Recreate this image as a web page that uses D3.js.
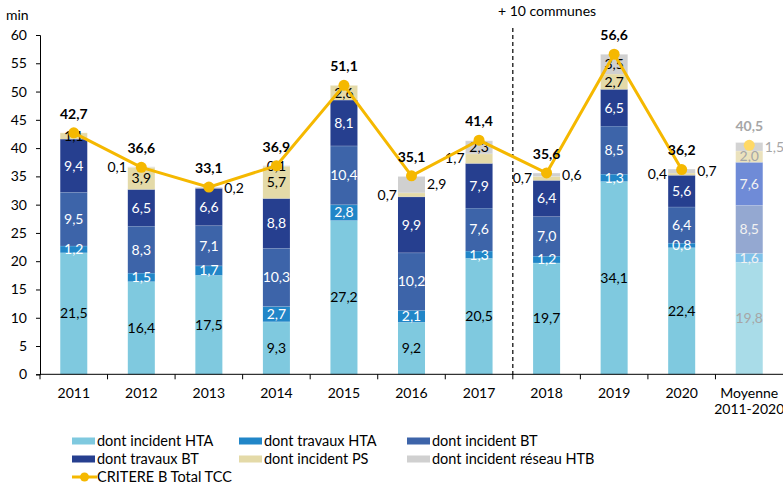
<!DOCTYPE html>
<html><head><meta charset="utf-8">
<script src="https://cdn.jsdelivr.net/npm/d3@7"></script>
<style>
html,body{margin:0;padding:0;background:#fff;}
svg{display:block;font-family:Lato,"Open Sans",sans-serif;}
</style></head>
<body><svg id="c" width="783" height="485"></svg>
<script>
const categories = ["2011","2012","2013","2014","2015","2016","2017","2018","2019","2020","Moyenne\n2011-2020"];
const incidentHTA = [21.5,16.4,17.5,9.3,27.2,9.2,20.5,19.7,34.1,22.4,19.8];
const travauxHTA  = [1.2,1.5,1.7,2.7,2.8,2.1,1.3,1.2,1.3,0.8,1.6];
const incidentBT  = [9.5,8.3,7.1,10.3,10.4,10.2,7.6,7.0,8.5,6.4,8.5];
const travauxBT   = [9.4,6.5,6.6,8.8,8.1,9.9,7.9,6.4,6.5,5.6,7.6];
const incidentPS  = [1.1,3.9,0,5.7,2.6,0.7,1.7,0.7,2.7,0.4,2.0];
const incidentHTB = [0,0.1,0.2,0.1,0,2.9,2.3,0.6,3.5,0.7,1.5];
const totalTCC    = [42.7,36.6,33.1,36.9,51.1,35.1,41.4,35.6,56.6,36.2,40.5];
const yTicks = [0,5,10,15,20,25,30,35,40,45,50,55,60];
// label placement keywords for the small top segments
const psLabelPos  = ["in","in","in","in","in","left","left","left","in","left","in"];
const htbLabelPos = ["in","left","right","in","in","right","in","right","in","right","right"];

const seriesNames = ["dont incident HTA","dont travaux HTA","dont incident BT","dont travaux BT","dont incident PS","dont incident réseau HTB"];
const seriesData = [incidentHTA,travauxHTA,incidentBT,travauxBT,incidentPS,incidentHTB];
const colors = ["#7fc9df","#2186c8","#3d64a9","#263f8f","#e4daa8","#d0d0d0"];
const colorsAvg = ["#a9dce8","#7fc1e9","#94a8d1","#6f8bd7","#ebe2bd","#d3d3d3"];
const labelColors = ["#000","#fff","#fff","#fff","#000","#000"];
const lineColor = "#f5b800";
const FS = 14;

const svg = d3.select("#c");
const x = d3.scaleBand().domain(categories).range([40,783]).paddingInner(0.6).paddingOuter(0.3);
const y = d3.scaleLinear().domain([0,60]).range([374.3,35]);
const fmt = v => d3.format(".1f")(v).replace(".",",");
const isAvg = i => i === categories.length-1;

const rows = categories.map((c,i)=>{const r={cat:c}; seriesData.forEach((s,k)=>r["s"+k]=s[i]); return r;});
const stack = d3.stack().keys(seriesData.map((s,k)=>"s"+k))(rows);

stack.forEach((layer,k)=>{
  const g = svg.append("g");
  g.selectAll("rect").data(layer).join("rect")
    .attr("x",d=>x(d.data.cat)).attr("width",x.bandwidth())
    .attr("y",d=>y(d[1])).attr("height",d=>Math.max(0,y(d[0])-y(d[1])))
    .attr("fill",(d,i)=>isAvg(i)?colorsAvg[k]:colors[k]);
  g.selectAll("line").data(layer.filter(d=>d[1]-d[0]>0)).join("line")
    .attr("x1",d=>x(d.data.cat)).attr("x2",d=>x(d.data.cat)+x.bandwidth())
    .attr("y1",d=>y(d[1])).attr("y2",d=>y(d[1]))
    .attr("stroke","#ffffff").attr("stroke-opacity",0.35).attr("stroke-width",1);
});

stack.forEach((layer,k)=>{
  layer.forEach((d,i)=>{
    const v = d[1]-d[0];
    if (v<=0) return;
    const cx = x(d.data.cat)+x.bandwidth()/2;
    const cy = y((d[0]+d[1])/2);
    let pos = "in";
    if (k===4) pos = psLabelPos[i];
    if (k===5) pos = htbLabelPos[i];
    let tx = cx, anchor="middle", fill = labelColors[k];
    if (pos==="left"){ tx = x(d.data.cat)-1; anchor="end"; fill="#000"; }
    if (pos==="right"){ tx = x(d.data.cat)+x.bandwidth()+2; anchor="start"; fill="#000"; }
    if (isAvg(i)) fill = (k===0||k>=4)?"#a6a6a6":"#f2f2f2";
    svg.append("text").attr("x",tx).attr("y",cy).attr("dy","0.35em")
      .attr("text-anchor",anchor).attr("font-size",FS).attr("fill",fill).text(fmt(v));
  });
});

const yAxis = svg.append("g").attr("transform","translate(40,0)")
  .call(d3.axisLeft(y).tickValues(yTicks).tickSize(4).tickPadding(9).tickFormat(d=>d));
yAxis.select(".domain").attr("stroke","#000");
yAxis.selectAll("text").attr("font-size",FS).attr("fill","#000").style("font-family","Lato,sans-serif");
yAxis.selectAll("line").attr("stroke","#000");

const xg = svg.append("g").attr("transform","translate(0,374.3)");
xg.append("line").attr("x1",40).attr("x2",783).attr("stroke","#000");
const bounds = categories.map(c=>x(c)-x.step()*x.paddingInner()/2);
xg.selectAll("line.t").data(bounds).join("line").attr("class","t")
  .attr("x1",d=>d).attr("x2",d=>d).attr("y1",0).attr("y2",5).attr("stroke","#000");
categories.forEach(c=>{
  const lines = c.split("\n");
  const t = xg.append("text").attr("x",x(c)+x.bandwidth()/2).attr("y",24)
    .attr("text-anchor","middle").attr("font-size",FS).attr("fill","#000");
  lines.forEach((l,j)=>t.append("tspan").attr("x",x(c)+x.bandwidth()/2).attr("dy",j?16:0).text(l));
});

svg.append("text").attr("x",6).attr("y",20).attr("font-size",FS).attr("fill","#000").text("min");

const sepX = x("2018")-x.step()*x.paddingInner()/2;
svg.append("line").attr("x1",sepX).attr("x2",sepX).attr("y1",28).attr("y2",378)
  .attr("stroke","#000").attr("stroke-width",1.2).attr("stroke-dasharray","4,3");
svg.append("text").attr("x",498).attr("y",16).attr("font-size",FS).attr("fill","#000").text("+ 10 communes");

const n = categories.length-1;
const lineData = totalTCC.slice(0,n).map((v,i)=>({c:categories[i],v}));
svg.append("path").datum(lineData)
  .attr("d",d3.line().x(d=>x(d.c)+x.bandwidth()/2).y(d=>y(d.v)))
  .attr("fill","none").attr("stroke",lineColor).attr("stroke-width",3);
svg.selectAll("circle.m").data(totalTCC.map((v,i)=>({c:categories[i],v,i}))).join("circle")
  .attr("cx",d=>x(d.c)+x.bandwidth()/2).attr("cy",d=>y(d.v)).attr("r",5.5)
  .attr("fill",d=>isAvg(d.i)?"#ffd966":lineColor);
svg.selectAll("text.tot").data(totalTCC.map((v,i)=>({c:categories[i],v,i}))).join("text")
  .attr("x",d=>x(d.c)+x.bandwidth()/2).attr("y",d=>y(d.v)-19).attr("dy","0.35em")
  .attr("text-anchor","middle").attr("font-size",FS).attr("font-weight","bold")
  .attr("fill",d=>isAvg(d.i)?"#a6a6a6":"#000").text(d=>fmt(d.v));

const legPos = [[72,441],[239,441],[407,441],[72,459],[239,459],[407,459]];
seriesNames.forEach((s,k)=>{
  const [lx,ly] = legPos[k];
  svg.append("rect").attr("x",lx).attr("y",ly-3.5).attr("width",23).attr("height",7).attr("fill",colors[k]);
  svg.append("text").attr("x",lx+25).attr("y",ly).attr("dy","0.35em").attr("font-size",14.5).attr("fill","#000").text(s);
});
svg.append("line").attr("x1",72).attr("x2",97).attr("y1",477).attr("y2",477).attr("stroke",lineColor).attr("stroke-width",3);
svg.append("circle").attr("cx",84.5).attr("cy",477).attr("r",4.5).attr("fill",lineColor);
svg.append("text").attr("x",97).attr("y",477).attr("dy","0.35em").attr("font-size",14.5).attr("fill","#000").text("CRITERE B Total TCC");
</script></body></html>
